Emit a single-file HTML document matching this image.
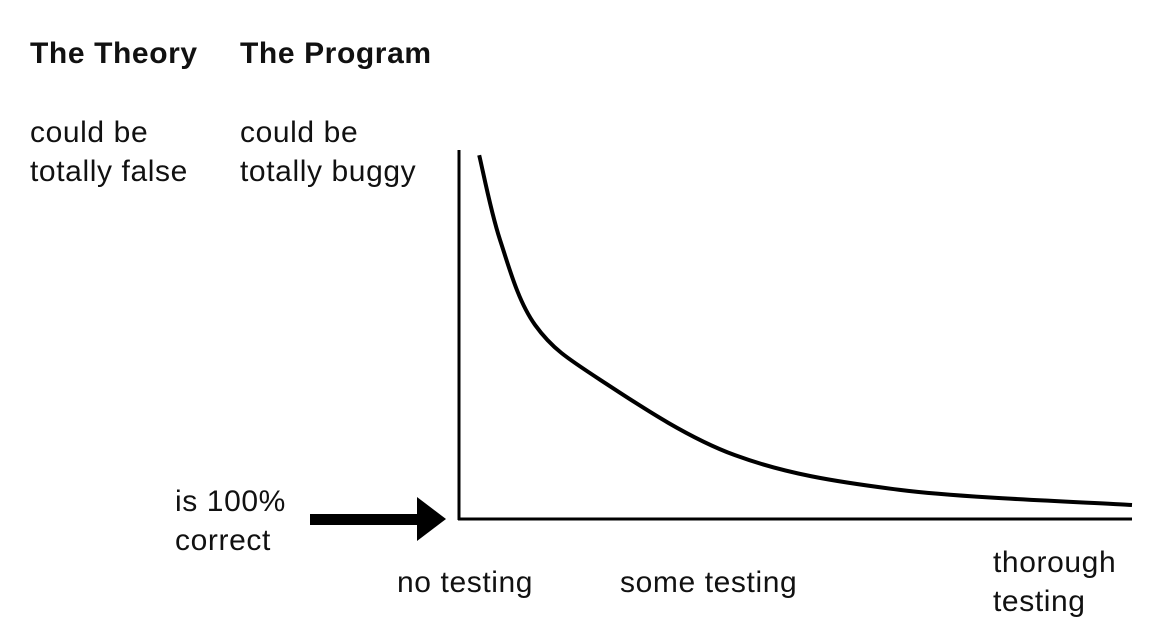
<!DOCTYPE html>
<html><head><meta charset="utf-8"><style>
html,body{margin:0;padding:0;background:#fff;}
body{width:1167px;height:641px;overflow:hidden;position:relative;font-family:"Liberation Sans",Arial,sans-serif;color:#111;}
.t{position:absolute;font-size:30px;line-height:39px;letter-spacing:0.6px;white-space:nowrap;}
.b{font-weight:bold;}
</style></head><body>
<div class="t b" style="left:30px;top:34px;">The Theory</div>
<div class="t b" style="left:240px;top:34px;">The Program</div>
<div class="t" style="left:30px;top:113px;">could be<br>totally false</div>
<div class="t" style="left:240px;top:113px;">could be<br>totally buggy</div>
<div class="t" style="left:175px;top:482px;">is 100%<br>correct</div>
<div class="t" style="left:397px;top:563px;">no testing</div>
<div class="t" style="left:620px;top:563px;">some testing</div>
<div class="t" style="left:993px;top:543px;">thorough<br>testing</div>
<svg id="chart" width="1167" height="641" style="position:absolute;left:0;top:0;">
<line x1="459" y1="150" x2="459" y2="520" stroke="#000" stroke-width="3"/>
<line x1="458" y1="519" x2="1132" y2="519" stroke="#000" stroke-width="3"/>
<rect x="310" y="514" width="110" height="11" fill="#000"/>
<polygon points="417,497 446,519 417,541" fill="#000"/>
</svg>
<script>
const testing = [0.03, 0.061, 0.113, 0.21, 0.41, 0.655, 1.0];
const bugginess = [0.986, 0.756, 0.526, 0.377, 0.173, 0.079, 0.038];
const xs = v => 459 + v * (1132 - 459);
const ys = v => 519 - v * (519 - 150);
const pts = testing.map((t, i) => [xs(t), ys(bugginess[i])]);
let d = `M${pts[0][0]},${pts[0][1]}`;
for (let i = 0; i < pts.length - 1; i++) {
  const p0 = pts[Math.max(i - 1, 0)], p1 = pts[i], p2 = pts[i + 1], p3 = pts[Math.min(i + 2, pts.length - 1)];
  const c1 = [p1[0] + (p2[0] - p0[0]) / 6, p1[1] + (p2[1] - p0[1]) / 6];
  const c2 = [p2[0] - (p3[0] - p1[0]) / 6, p2[1] - (p3[1] - p1[1]) / 6];
  d += ` C${c1[0]},${c1[1]} ${c2[0]},${c2[1]} ${p2[0]},${p2[1]}`;
}
const path = document.createElementNS('http://www.w3.org/2000/svg', 'path');
path.setAttribute('d', d);
path.setAttribute('fill', 'none');
path.setAttribute('stroke', '#000');
path.setAttribute('stroke-width', '4');


document.getElementById('chart').appendChild(path);
</script>
</body></html>
